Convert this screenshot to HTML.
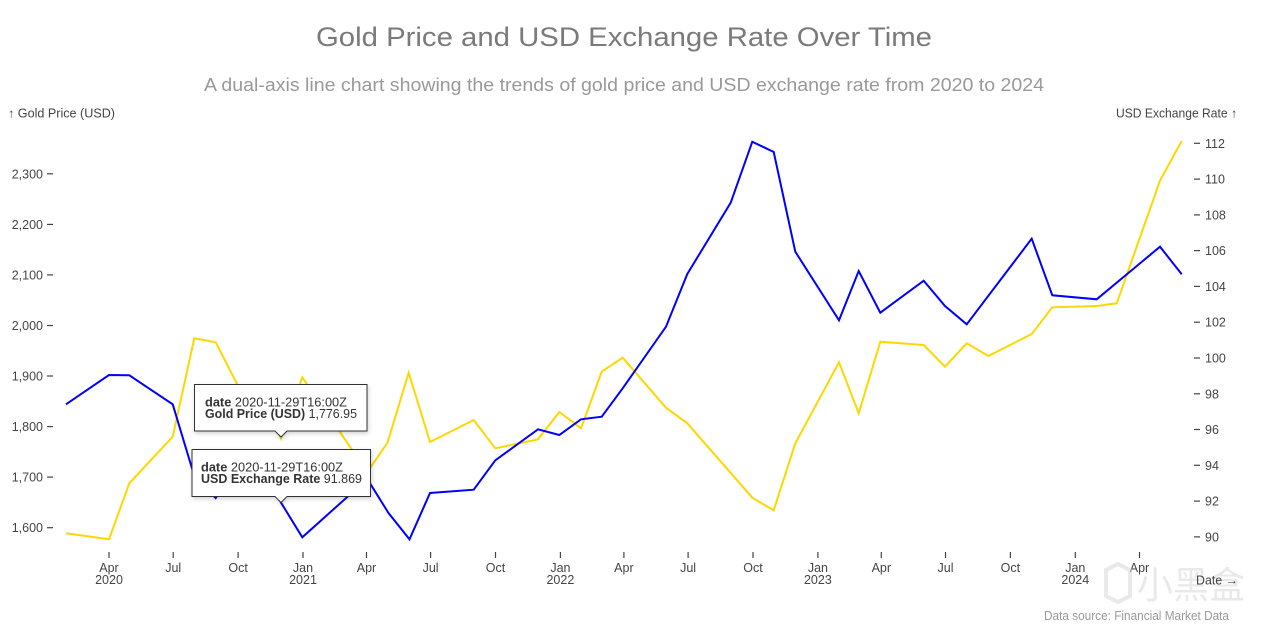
<!DOCTYPE html>
<html>
<head>
<meta charset="utf-8">
<style>
  html,body{margin:0;padding:0;background:#fff;}
  svg{display:block;}
  text{font-family:"Liberation Sans","Noto Sans CJK SC",sans-serif;}
</style>
</head>
<body>
<svg width="1280" height="631" viewBox="0 0 1280 631" xmlns="http://www.w3.org/2000/svg">
  <defs>
    <filter id="sh" x="-10%" y="-20%" width="120%" height="150%">
      <feDropShadow dx="1" dy="2" stdDeviation="2" flood-color="#000" flood-opacity="0.18"/>
    </filter>
  </defs>
  <rect width="1280" height="631" fill="#fff"/>

  <!-- Title / subtitle -->
  <text x="624" y="46" text-anchor="middle" font-size="27" fill="#7a7a7a" textLength="616" lengthAdjust="spacingAndGlyphs">Gold Price and USD Exchange Rate Over Time</text>
  <text x="624" y="91" text-anchor="middle" font-size="18" fill="#999" textLength="840" lengthAdjust="spacingAndGlyphs">A dual-axis line chart showing the trends of gold price and USD exchange rate from 2020 to 2024</text>

  <!-- Axis titles -->
  <text x="8" y="117.5" font-size="12.5" fill="#444" textLength="107" lengthAdjust="spacingAndGlyphs">↑ Gold Price (USD)</text>
  <text x="1237" y="117.5" text-anchor="end" font-size="12.5" fill="#444" textLength="121" lengthAdjust="spacingAndGlyphs">USD Exchange Rate ↑</text>

  <!-- Left axis -->
  <g font-size="12.5" fill="#444" text-anchor="end">
    <text x="43" y="178.3">2,300</text>
    <text x="43" y="228.9">2,200</text>
    <text x="43" y="279.4">2,100</text>
    <text x="43" y="330">2,000</text>
    <text x="43" y="380.5">1,900</text>
    <text x="43" y="431.1">1,800</text>
    <text x="43" y="481.6">1,700</text>
    <text x="43" y="532.2">1,600</text>
  </g>
  <g stroke="#444" stroke-width="1.2">
    <line x1="47" x2="53" y1="173.8" y2="173.8"/>
    <line x1="47" x2="53" y1="224.4" y2="224.4"/>
    <line x1="47" x2="53" y1="274.9" y2="274.9"/>
    <line x1="47" x2="53" y1="325.5" y2="325.5"/>
    <line x1="47" x2="53" y1="376" y2="376"/>
    <line x1="47" x2="53" y1="426.6" y2="426.6"/>
    <line x1="47" x2="53" y1="477.1" y2="477.1"/>
    <line x1="47" x2="53" y1="527.7" y2="527.7"/>
  </g>

  <!-- Right axis -->
  <g font-size="12.5" fill="#444" text-anchor="start">
    <text x="1205" y="147.8">112</text>
    <text x="1205" y="183.6">110</text>
    <text x="1205" y="219.4">108</text>
    <text x="1205" y="255.1">106</text>
    <text x="1205" y="290.9">104</text>
    <text x="1205" y="326.7">102</text>
    <text x="1205" y="362.5">100</text>
    <text x="1205" y="398.3">98</text>
    <text x="1205" y="434">96</text>
    <text x="1205" y="469.8">94</text>
    <text x="1205" y="505.6">92</text>
    <text x="1205" y="541.4">90</text>
  </g>
  <g stroke="#444" stroke-width="1.2">
    <line x1="1194" x2="1200" y1="143.3" y2="143.3"/>
    <line x1="1194" x2="1200" y1="179.1" y2="179.1"/>
    <line x1="1194" x2="1200" y1="214.9" y2="214.9"/>
    <line x1="1194" x2="1200" y1="250.6" y2="250.6"/>
    <line x1="1194" x2="1200" y1="286.4" y2="286.4"/>
    <line x1="1194" x2="1200" y1="322.2" y2="322.2"/>
    <line x1="1194" x2="1200" y1="358" y2="358"/>
    <line x1="1194" x2="1200" y1="393.8" y2="393.8"/>
    <line x1="1194" x2="1200" y1="429.5" y2="429.5"/>
    <line x1="1194" x2="1200" y1="465.3" y2="465.3"/>
    <line x1="1194" x2="1200" y1="501.1" y2="501.1"/>
    <line x1="1194" x2="1200" y1="536.9" y2="536.9"/>
  </g>

  <!-- X axis ticks -->
  <g stroke="#444" stroke-width="1.2">
    <line x1="109" x2="109" y1="552" y2="558"/>
    <line x1="173.2" x2="173.2" y1="552" y2="558"/>
    <line x1="238.1" x2="238.1" y1="552" y2="558"/>
    <line x1="303" x2="303" y1="552" y2="558"/>
    <line x1="366.5" x2="366.5" y1="552" y2="558"/>
    <line x1="430.6" x2="430.6" y1="552" y2="558"/>
    <line x1="495.5" x2="495.5" y1="552" y2="558"/>
    <line x1="560.4" x2="560.4" y1="552" y2="558"/>
    <line x1="623.9" x2="623.9" y1="552" y2="558"/>
    <line x1="688.1" x2="688.1" y1="552" y2="558"/>
    <line x1="753" x2="753" y1="552" y2="558"/>
    <line x1="817.9" x2="817.9" y1="552" y2="558"/>
    <line x1="881.3" x2="881.3" y1="552" y2="558"/>
    <line x1="945.5" x2="945.5" y1="552" y2="558"/>
    <line x1="1010.4" x2="1010.4" y1="552" y2="558"/>
    <line x1="1075.3" x2="1075.3" y1="552" y2="558"/>
    <line x1="1139.5" x2="1139.5" y1="552" y2="558"/>
  </g>
  <g font-size="12.5" fill="#444" text-anchor="middle">
    <text x="109" y="572">Apr</text><text x="109" y="583.8">2020</text>
    <text x="173.2" y="572">Jul</text>
    <text x="238.1" y="572">Oct</text>
    <text x="303" y="572">Jan</text><text x="303" y="583.8">2021</text>
    <text x="366.5" y="572">Apr</text>
    <text x="430.6" y="572">Jul</text>
    <text x="495.5" y="572">Oct</text>
    <text x="560.4" y="572">Jan</text><text x="560.4" y="583.8">2022</text>
    <text x="623.9" y="572">Apr</text>
    <text x="688.1" y="572">Jul</text>
    <text x="753" y="572">Oct</text>
    <text x="817.9" y="572">Jan</text><text x="817.9" y="583.8">2023</text>
    <text x="881.3" y="572">Apr</text>
    <text x="945.5" y="572">Jul</text>
    <text x="1010.4" y="572">Oct</text>
    <text x="1075.3" y="572">Jan</text><text x="1075.3" y="583.8">2024</text>
    <text x="1139.5" y="572">Apr</text>
  </g>

  <!-- Watermark -->
  <g opacity="0.55">
    <path d="M1106 570 L1118 564 L1130 570 L1130 596 L1118 602 L1106 596 Z" fill="none" stroke="#d8d8d8" stroke-width="4"/>
    <text x="1137" y="598" font-size="37" fill="#d8d8d8" font-family="'Noto Sans CJK SC',sans-serif" textLength="108" lengthAdjust="spacingAndGlyphs">小黑盒</text>
  </g>

  <text x="1196" y="584.3" font-size="12.5" fill="#444" textLength="42" lengthAdjust="spacingAndGlyphs">Date →</text>
  <text x="1229" y="620" text-anchor="end" font-size="12.5" fill="#999" textLength="185" lengthAdjust="spacingAndGlyphs">Data source: Financial Market Data</text>

  <!-- Gold price (yellow) -->
  <polyline fill="none" stroke="#FFD700" stroke-width="2" stroke-linejoin="miter"
    points="66,533.3 109,539.3 129.3,483.3 172.7,436.7 194.3,338.3 215.7,342.3 238.6,387 260.5,392 281,438.5 302.3,377.3 367.3,472 387.5,442.7 408.7,372.7 430,442 473.7,420 495.3,448.3 538,439.3 559.3,412 581,428.3 601.7,371.7 622.7,357.7 666,407.7 687.3,423.3 752.3,497.7 773.7,510.3 795.3,443.3 839,362.3 858.7,413.3 880.3,341.7 923.7,345 945,366.7 966.7,343.3 988.3,356 1031.7,334 1052.3,307.3 1096.7,306 1116.7,303.3 1160,180.7 1181.7,141"/>

  <!-- USD exchange rate (blue) -->
  <polyline fill="none" stroke="#0000FF" stroke-width="2" stroke-linejoin="miter"
    points="66,404.3 109,375 129.3,375.3 172.7,404.3 194.3,476 215.7,498 238.6,464 260.5,463 281,502.6 302.3,537.3 367.3,479 388.5,513 409.5,539.3 430,493 473.7,489.7 495.3,460.3 538,429.3 559.3,435 581,419.3 601.7,416.7 622.7,388.3 666,326.7 687.3,274 730.7,202.7 752.3,141.7 773.7,152 795.3,251.7 839,320.3 858.7,271 880.3,312.7 923.7,280.7 945,306 966.7,324.3 1031.7,238.7 1052.3,295.3 1096.7,299.3 1160,246.7 1181.7,274.3"/>

  <!-- Tooltip 1 -->
  <g filter="url(#sh)">
    <path d="M194.5 384.5 H367 V431 H287 L281 437 L275 431 H194.5 Z" fill="#fff" stroke="#333" stroke-width="1"/>
  </g>
  <text x="205" y="406.5" font-size="12.5" fill="#333" textLength="142" lengthAdjust="spacingAndGlyphs"><tspan font-weight="bold">date</tspan> 2020-11-29T16:00Z</text>
  <text x="205" y="418" font-size="12.5" fill="#333" textLength="152" lengthAdjust="spacingAndGlyphs"><tspan font-weight="bold">Gold Price (USD)</tspan> 1,776.95</text>

  <!-- Tooltip 2 -->
  <g filter="url(#sh)">
    <path d="M192 449.5 H370.5 V496.5 H287 L281 502.5 L275 496.5 H192 Z" fill="#fff" stroke="#333" stroke-width="1"/>
  </g>
  <text x="201" y="471.5" font-size="12.5" fill="#333" textLength="142" lengthAdjust="spacingAndGlyphs"><tspan font-weight="bold">date</tspan> 2020-11-29T16:00Z</text>
  <text x="201" y="483" font-size="12.5" fill="#333" textLength="161" lengthAdjust="spacingAndGlyphs"><tspan font-weight="bold">USD Exchange Rate</tspan> 91.869</text>
</svg>
</body>
</html>
